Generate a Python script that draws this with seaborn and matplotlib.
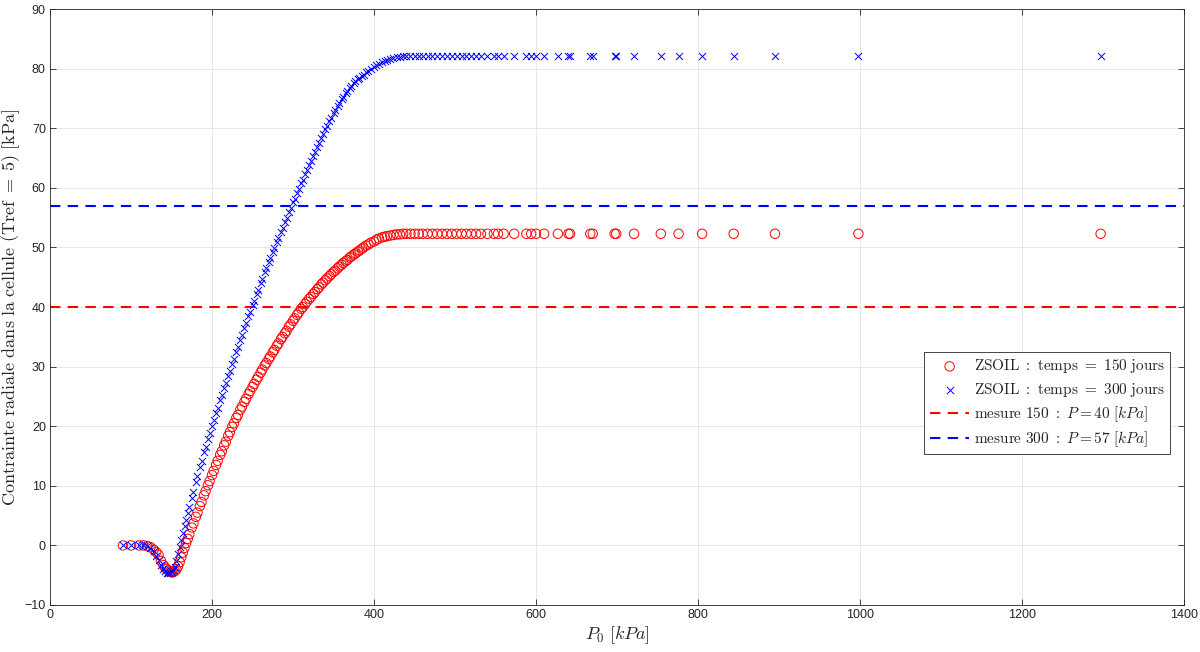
import matplotlib
matplotlib.use("Agg")
import matplotlib.pyplot as plt
import pandas as pd
import seaborn as sns

# P0 [kPa] (same abscissae for both ZSOIL series)
p0_kpa = [
    90, 100, 110, 115, 120, 124, 128, 131, 134, 137,
    140, 142, 144, 146, 148, 150, 152, 154, 156, 158,
    160, 162, 164, 166, 168, 170, 172, 175, 177, 180,
    182, 185, 187, 190, 192, 195, 197, 200, 202, 205,
    207, 210, 212, 215, 217, 220, 222, 225, 227, 230,
    232, 235, 237, 240, 242, 245, 247, 250, 252, 255,
    257, 260, 262, 265, 267, 270, 272, 275, 277, 280,
    282, 285, 287, 290, 292, 295, 297, 300, 302, 305,
    307, 310, 312, 315, 317, 320, 322, 325, 327, 330,
    332, 335, 337, 340, 342, 345, 347, 350, 352, 355,
    357, 360, 362, 365, 367, 370, 372, 375, 377, 380,
    382, 385, 387, 390, 393, 396, 400, 403, 406, 410,
    413, 416, 420, 424, 428, 432, 436, 440, 445, 450,
    455, 460, 466, 472, 478, 484, 490, 496, 502, 508,
    514, 520, 526, 532, 540, 548, 553, 560, 573, 588,
    594, 600, 610, 627, 640, 642, 667, 670, 697, 699,
    721, 754, 776, 805, 844, 895, 998, 1297,
]

# contrainte radiale, temps = 150 jours
sigma_150 = [
    0, 0, 0, 0, -0.1, -0.3, -0.7, -1.1, -1.6, -2.6,
    -3.3, -3.7, -4.0, -4.2, -4.4, -4.5, -4.5, -4.3, -4.0, -3.5,
    -2.8, -2.0, -1.2, -0.4, 0.4, 1.1, 1.9, 3.0, 3.7, 4.8,
    5.5, 6.6, 7.3, 8.4, 9.1, 10.1, 10.8, 11.8, 12.5, 13.5,
    14.2, 15.2, 15.8, 16.8, 17.4, 18.4, 19.0, 19.9, 20.5, 21.4,
    21.9, 22.8, 23.3, 24.1, 24.6, 25.4, 25.9, 26.6, 27.1, 27.8,
    28.3, 29.0, 29.5, 30.2, 30.6, 31.3, 31.7, 32.4, 32.8, 33.5,
    33.9, 34.6, 35.0, 35.6, 36.0, 36.7, 37.1, 37.7, 38.1, 38.7,
    39.1, 39.7, 40.0, 40.5, 40.9, 41.4, 41.7, 42.2, 42.5, 43.0,
    43.3, 43.8, 44.1, 44.5, 44.8, 45.2, 45.5, 45.9, 46.1, 46.5,
    46.8, 47.1, 47.4, 47.7, 47.9, 48.3, 48.5, 48.8, 49.0, 49.3,
    49.5, 49.8, 50.0, 50.3, 50.5, 50.8, 51.0, 51.3, 51.5, 51.7,
    51.8, 51.9, 52.0, 52.1, 52.2, 52.2, 52.3, 52.3, 52.3, 52.3,
    52.3, 52.3, 52.3, 52.3, 52.3, 52.3, 52.3, 52.3, 52.3, 52.3,
    52.3, 52.3, 52.3, 52.3, 52.3, 52.3, 52.3, 52.3, 52.3, 52.3,
    52.3, 52.3, 52.3, 52.3, 52.3, 52.3, 52.3, 52.3, 52.3, 52.3,
    52.3, 52.3, 52.3, 52.3, 52.3, 52.3, 52.3, 52.3,
]

# contrainte radiale, temps = 300 jours
sigma_300 = [
    0, 0, 0, 0, -0.1, -0.4, -1.0, -1.7, -2.5, -3.3,
    -3.9, -4.3, -4.6, -4.7, -4.6, -4.4, -4.1, -3.6, -2.7, -1.5,
    -0.3, 0.9, 2.1, 3.2, 4.3, 5.4, 6.5, 8.0, 9.0, 10.6,
    11.6, 13.1, 14.1, 15.6, 16.5, 17.9, 18.8, 20.1, 21.0, 22.3,
    23.1, 24.4, 25.2, 26.5, 27.3, 28.5, 29.3, 30.5, 31.3, 32.5,
    33.3, 34.5, 35.3, 36.5, 37.3, 38.5, 39.2, 40.4, 41.1, 42.2,
    42.9, 44.0, 44.7, 45.8, 46.5, 47.5, 48.2, 49.2, 49.9, 50.9,
    51.6, 52.6, 53.3, 54.3, 55.0, 56.0, 56.6, 57.6, 58.2, 59.2,
    59.8, 60.8, 61.4, 62.4, 63.0, 63.9, 64.5, 65.4, 66.0, 66.9,
    67.5, 68.4, 69.0, 69.9, 70.4, 71.3, 71.8, 72.6, 73.1, 73.8,
    74.3, 74.9, 75.3, 75.9, 76.3, 76.8, 77.1, 77.6, 77.9, 78.2,
    78.4, 78.8, 79.0, 79.4, 79.7, 80.0, 80.3, 80.6, 80.8, 81.1,
    81.3, 81.5, 81.7, 81.8, 81.9, 82.0, 82.1, 82.2, 82.2, 82.2,
    82.2, 82.2, 82.2, 82.2, 82.2, 82.2, 82.2, 82.2, 82.2, 82.2,
    82.2, 82.2, 82.2, 82.2, 82.2, 82.2, 82.2, 82.2, 82.2, 82.2,
    82.2, 82.2, 82.2, 82.2, 82.2, 82.2, 82.2, 82.2, 82.2, 82.2,
    82.2, 82.2, 82.2, 82.2, 82.2, 82.2, 82.2, 82.2,
]

mesure_150 = 40
mesure_300 = 57

x_ticks = [0, 200, 400, 600, 800, 1000, 1200, 1400]
y_ticks = [-10, 0, 10, 20, 30, 40, 50, 60, 70, 80, 90]

df = pd.DataFrame({"P0": p0_kpa, "t150": sigma_150, "t300": sigma_300})

sns.set_theme(style="whitegrid")
plt.rcParams["mathtext.fontset"] = "cm"
plt.rcParams["font.family"] = ["Liberation Sans", "DejaVu Sans"]

axis_col = "#262626"

fig, ax = plt.subplots(figsize=(12, 6.52), dpi=100)
fig.subplots_adjust(left=0.0417, right=0.9867, top=0.986, bottom=0.0721)

sns.scatterplot(data=df, x="P0", y="t150", marker="o", s=46,
                facecolor="none", edgecolor="red", linewidth=0.7, ax=ax,
                label=r"$\mathrm{ZSOIL\ :\ temps\ =\ 150\ jours}$", zorder=3)
sns.scatterplot(data=df, x="P0", y="t300", marker="x", s=26,
                color="blue", linewidth=0.7, ax=ax,
                label=r"$\mathrm{ZSOIL\ :\ temps\ =\ 300\ jours}$", zorder=3)
ax.axhline(mesure_150, color="red", ls=(0, (5, 3.5)), lw=1.5,
           label=r"$\mathrm{mesure\ 150\ :}\ P = 40\ [kPa]$")
ax.axhline(mesure_300, color="blue", ls=(0, (5, 3.5)), lw=1.5,
           label=r"$\mathrm{mesure\ 300\ :}\ P = 57\ [kPa]$")

ax.set_xlim(x_ticks[0], x_ticks[-1])
ax.set_ylim(y_ticks[0], y_ticks[-1])
ax.set_xticks(x_ticks)
ax.set_yticks(y_ticks)

ax.set_xlabel(r"$P_0\ [kPa]$", fontsize=13, color=axis_col, labelpad=2)
ax.set_ylabel(r"$\mathrm{Contrainte\ radiale\ dans\ la\ cellule\ (Tref\ =\ 5)\ [kPa]}$",
              fontsize=13, color=axis_col, labelpad=2)

ax.grid(True, color="#e3e3e3", lw=0.6)
for sp in ax.spines.values():
    sp.set_visible(True)
    sp.set_color(axis_col)
    sp.set_linewidth(0.6)
ax.tick_params(direction="in", length=4, width=0.6, color=axis_col,
               labelsize=9, labelcolor=axis_col, top=True, right=True,
               bottom=True, left=True, pad=3)

leg = ax.legend(loc="upper right", bbox_to_anchor=(0.988, 0.4245),
                borderaxespad=0, fontsize=11, fancybox=False, framealpha=1,
                edgecolor=axis_col, handlelength=2.6, handletextpad=0.3,
                borderpad=0.35, labelspacing=0.35)
leg.get_frame().set_linewidth(0.6)

fig.savefig("out.png", dpi=100, facecolor="white")
